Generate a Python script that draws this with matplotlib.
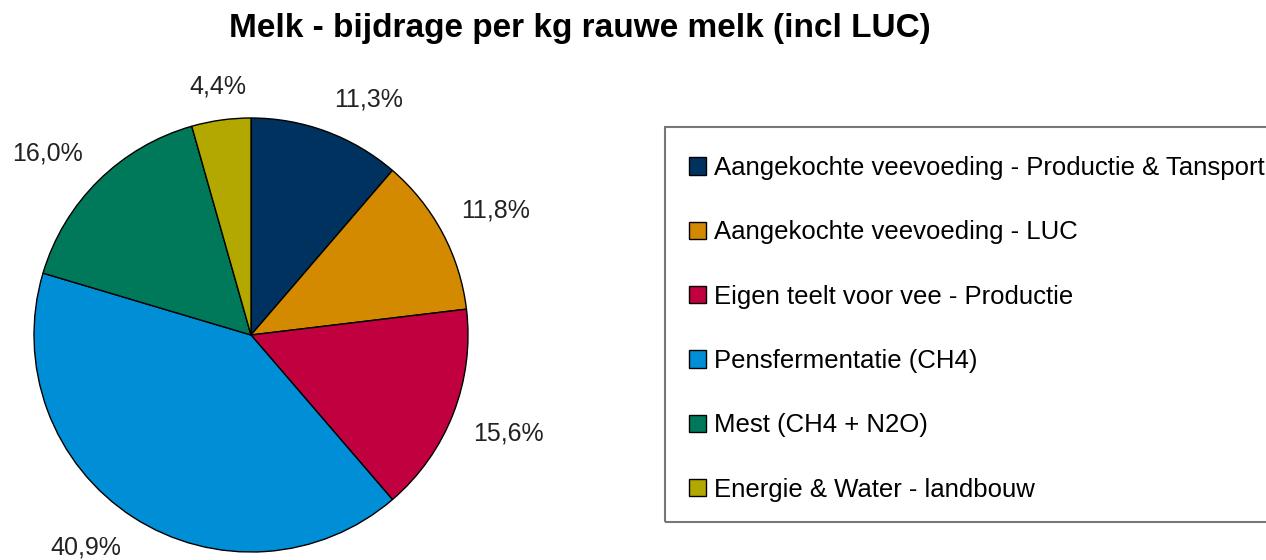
import matplotlib.pyplot as plt
from matplotlib.patches import Rectangle

plt.rcParams['font.family'] = ['Liberation Sans', 'DejaVu Sans']

# Data
categorieen = ['Aangekochte veevoeding - Productie & Tansport',
               'Aangekochte veevoeding - LUC',
               'Eigen teelt voor vee - Productie',
               'Pensfermentatie (CH4)',
               'Mest (CH4 + N2O)',
               'Energie & Water - landbouw']
aandeel = [11.3, 11.8, 15.6, 40.9, 16.0, 4.4]
kleuren = ['#00325f', '#d38a00', '#c0003f', '#008fd6', '#00795a', '#b3a800']

fig = plt.figure(figsize=(12.66, 5.6), dpi=100)
ax = fig.add_axes([34 / 1266, 8 / 560, 434 / 1266, 434 / 560])

labels_pct = [f'{v:.1f}%'.replace('.', ',') for v in aandeel]
wedges, texts = ax.pie(aandeel, colors=kleuren, startangle=90, counterclock=False,
                       labels=labels_pct, labeldistance=1.1, radius=1,
                       wedgeprops=dict(edgecolor='black', linewidth=1),
                       textprops=dict(fontsize=18, color='#222222'))
# labels boven het midden onderaan uitlijnen, eronder bovenaan
for t in texts:
    x, y = t.get_position()
    t.set_va('bottom' if y > 0 else 'top')
    if abs(x) < 0.3:
        t.set_ha('center')
ax.set_xlim(-1, 1)
ax.set_ylim(-1, 1)
ax.set_aspect('equal')

fig.text(580 / 1266, 1 - 28 / 560, 'Melk - bijdrage per kg rauwe melk (incl LUC)',
         ha='center', va='center', fontsize=24, fontweight='bold')

# kader van de legenda (loopt door buiten de figuur)
fig.add_artist(Rectangle((665 / 1266, 38 / 560), 0.6, 395 / 560,
                         transform=fig.transFigure, fill=False,
                         edgecolor='#777777', linewidth=1.5))

leg = fig.legend(wedges, categorieen, loc='upper left',
                 bbox_to_anchor=(689 / 1266, 1 - 156 / 560),
                 fontsize=18.5, frameon=False, handlelength=0.66, handleheight=0.66,
                 handletextpad=0.31, labelspacing=1.57, borderpad=0,
                 borderaxespad=0)
for h in leg.legend_handles:
    h.set_linewidth(1)

fig.savefig('out.png', dpi=100)
